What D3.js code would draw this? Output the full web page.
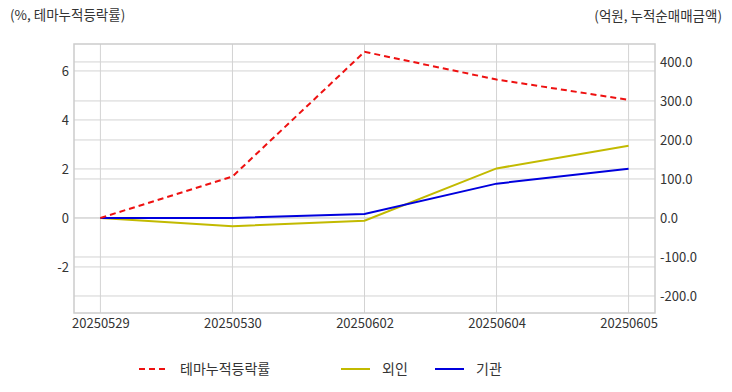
<!DOCTYPE html>
<html><head><meta charset="utf-8">
<script src="https://cdn.jsdelivr.net/npm/d3@7"></script>
<style>
body{margin:0;background:#fff;}
text{font-family:"Noto Sans CJK KR","Noto Sans",sans-serif;}
</style></head>
<body><svg id="c" width="732" height="392"></svg>
<script>
const dates = ["20250529","20250530","20250602","20250604","20250605"];
const themeRate = [0, 1.69, 6.78, 5.65, 4.82];
const foreign = [0, -21, -7, 127, 185];
const institution = [0, 0, 10, 88, 126];
const leftTicks = [-2, 0, 2, 4, 6];
const rightTicks = [-200, -100, 0, 100, 200, 300, 400];
const seriesNames = ["테마누적등락률", "외인", "기관"];
const leftTitle = "(%, 테마누적등락률)";
const rightTitle = "(억원, 누적순매매금액)";

const svg = d3.select("#c");
const L = 74, R = 655, T = 44, B = 313;
const x = d3.scalePoint().domain(dates).range([L, R]).padding(0.2);
const yL = d3.scaleLinear().domain([-3.88, 7.1]).range([B, T]);
const yR = d3.scaleLinear().domain([-243.6, 446]).range([B, T]);
const gridC = "#d3d3d3", txtC = "#333";

// gridlines
svg.append("g").selectAll("line").data(leftTicks).join("line")
  .attr("x1", L).attr("x2", R).attr("y1", d => yL(d)).attr("y2", d => yL(d))
  .attr("stroke", gridC).attr("stroke-width", 1);
svg.append("g").selectAll("line").data(rightTicks).join("line")
  .attr("x1", L).attr("x2", R).attr("y1", d => yR(d)).attr("y2", d => yR(d))
  .attr("stroke", gridC).attr("stroke-width", 1);
svg.append("g").selectAll("line").data(dates).join("line")
  .attr("x1", d => x(d)).attr("x2", d => x(d)).attr("y1", T).attr("y2", B)
  .attr("stroke", gridC).attr("stroke-width", 1);
svg.append("rect").attr("x", L).attr("y", T).attr("width", R - L).attr("height", B - T)
  .attr("fill", "none").attr("stroke", "#cccccc").attr("stroke-width", 1.5);

// axes
const axL = svg.append("g").attr("transform", `translate(${L},0)`)
  .call(d3.axisLeft(yL).tickValues(leftTicks).tickSize(0).tickPadding(5).tickFormat(d => String(d)));
const axR = svg.append("g").attr("transform", `translate(${R},0)`)
  .call(d3.axisRight(yR).tickValues(rightTicks).tickSize(0).tickPadding(5).tickFormat(d => d.toFixed(1)));
const axB = svg.append("g").attr("transform", `translate(0,${B})`)
  .call(d3.axisBottom(x).tickSize(0).tickPadding(6));
[axL, axR, axB].forEach(a => {
  a.select(".domain").remove();
  a.selectAll("text").attr("font-size", 13).attr("fill", txtC)
    .attr("font-family", '"Noto Sans CJK KR","Noto Sans",sans-serif');
});

// lines
const lineL = d3.line().x((d, i) => x(dates[i])).y(d => yL(d));
const lineR = d3.line().x((d, i) => x(dates[i])).y(d => yR(d));
const colors = ["#ee1111", "#c2ba00", "#0000dd"];
svg.append("path").datum(foreign).attr("d", lineR).attr("fill", "none")
  .attr("stroke", colors[1]).attr("stroke-width", 2);
svg.append("path").datum(institution).attr("d", lineR).attr("fill", "none")
  .attr("stroke", colors[2]).attr("stroke-width", 2);
svg.append("path").datum(themeRate).attr("d", lineL).attr("fill", "none")
  .attr("stroke", colors[0]).attr("stroke-width", 2).attr("stroke-dasharray", "6,4");

// titles
svg.append("text").attr("x", 10).attr("y", 20).attr("font-size", 13.5).attr("fill", txtC).text(leftTitle);
svg.append("text").attr("x", 722).attr("y", 21).attr("text-anchor", "end").attr("font-size", 13.5).attr("fill", txtC).text(rightTitle);

// legend
const leg = [{x: 139, c: colors[0], dash: "6,4"}, {x: 341, c: colors[1]}, {x: 435, c: colors[2]}];
leg.forEach((l, i) => {
  svg.append("line").attr("x1", l.x).attr("x2", l.x + 29).attr("y1", 369).attr("y2", 369)
    .attr("stroke", l.c).attr("stroke-width", 2).attr("stroke-dasharray", l.dash || null);
  svg.append("text").attr("x", l.x + 41).attr("y", 374).attr("font-size", 14).attr("fill", txtC).text(seriesNames[i]);
});
</script></body></html>
